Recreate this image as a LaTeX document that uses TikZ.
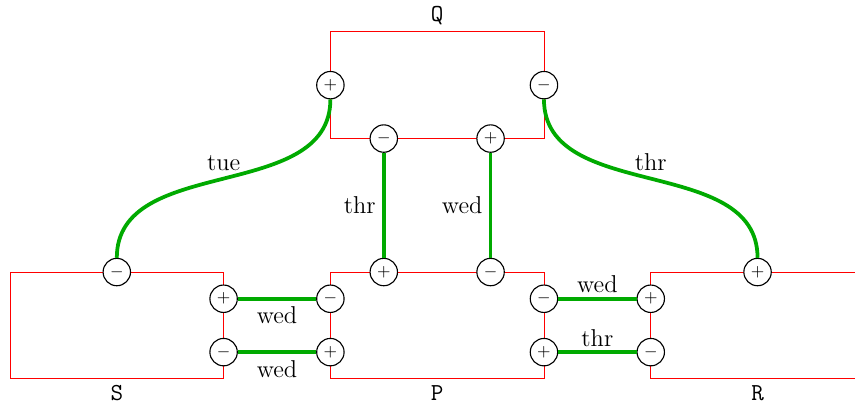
\documentclass[tikz,border=0pt]{standalone}
\usepackage{xcolor}
\definecolor{wire}{HTML}{00AA00}
\usepackage{tikz}
\usetikzlibrary{positioning}

\begin{document}
\begin{tikzpicture}[x=0.5cm, y=0.5cm,
  box/.style={red, thin},
  port/.style={circle, draw, line width=0.6pt, fill=white, inner sep=0pt, minimum size=14.6pt, font=\fontsize{9.5}{11}\selectfont},
  link/.style={wire, line width=2pt},
  lbl/.style={black, font=\fontsize{13}{15}\selectfont},
  title/.style={font=\fontsize{13}{15}\selectfont\ttfamily}]
  \useasboundingbox (-0.375,-1.086) rectangle (31.65,14.19);

  % S
  \draw[box] (0,0) rectangle (8,4);
  \node[title, below] (Slbl) at (4,0) {S};

  % P
  \draw[box] (12,0) rectangle (20,4);
  \node[title, below] (Plbl) at (16,0) {P};

  % R (open to the right)
  \draw[box] (31.65,4) -- (24,4) -- (24,0) -- (31.65,0);
  \node[title, below] (Rlbl) at (28,0) {R};

  % Q
  \draw[box] (12,9) rectangle (20,13);
  \node[title, above] (Qlbl) at (16,13) {Q};

  % ports
  \node[port] (Qa) at (12,11) {$+$};
  \node[port] (Qb) at (20,11) {$-$};
  \node[port] (Qc) at (14,9) {$-$};
  \node[port] (Qd) at (18,9) {$+$};
  \node[port] (Sa) at (4,4) {$-$};
  \node[port] (Sb) at (8,3) {$+$};
  \node[port] (Sc) at (8,1) {$-$};
  \node[port] (Pa) at (14,4) {$+$};
  \node[port] (Pb) at (18,4) {$-$};
  \node[port] (Pc) at (12,3) {$-$};
  \node[port] (Pd) at (12,1) {$+$};
  \node[port] (Pe) at (20,3) {$-$};
  \node[port] (Pf) at (20,1) {$+$};
  \node[port] (Ra) at (28,4) {$+$};
  \node[port] (Rb) at (24,3) {$+$};
  \node[port] (Rc) at (24,1) {$-$};

  % links
  \draw[link] (Qa) to[out=-90, in=90] node[pos=0.5, above, lbl] {tue} (Sa);
  \draw[link] (Qb) to[out=-90, in=90] node[pos=0.5, above, lbl] {thr} (Ra);
  \draw[link] (Qc) -- node[left, lbl] {thr} (Pa);
  \draw[link] (Qd) -- node[left, lbl] {wed} (Pb);
  \draw[link] (Sb) -- node[below, lbl] {wed} (Pc);
  \draw[link] (Sc) -- node[below, lbl] {wed} (Pd);
  \draw[link] (Pe) -- node[above, lbl, inner sep=2pt] {wed} (Rb);
  \draw[link] (Pf) -- node[above, lbl, inner sep=2pt] {thr} (Rc);
\end{tikzpicture}
\end{document}
